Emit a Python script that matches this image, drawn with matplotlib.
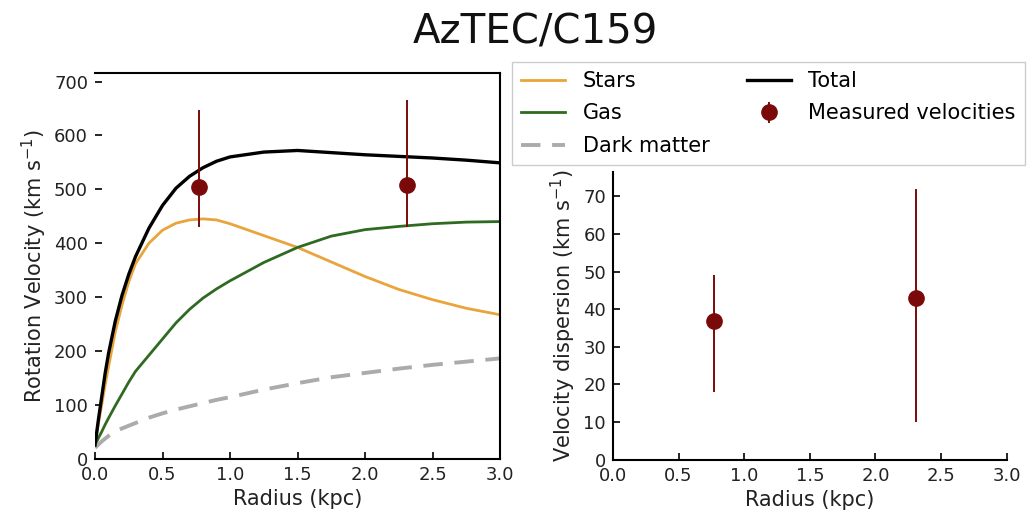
import numpy as np
import matplotlib
matplotlib.use("Agg")
import matplotlib.pyplot as plt

# model curves (radius in kpc, velocity in km/s)
radius = [0.0, 0.025, 0.05, 0.075, 0.1, 0.15, 0.2, 0.25, 0.3, 0.4, 0.5, 0.6, 0.7, 0.8,
          0.9, 1.0, 1.25, 1.5, 1.75, 2.0, 2.25, 2.5, 2.75, 3.0]
v_stars = [25, 65, 100, 137, 170, 235, 285, 328, 362, 400, 424, 437, 443, 445,
           443, 436, 414, 392, 365, 338, 314, 295, 279, 267]
v_gas = [25, 38, 50, 63, 75, 98, 120, 142, 162, 192, 222, 252, 277, 298,
         315, 330, 364, 392, 413, 425, 431, 436, 439, 440]
v_dm = [20, 26, 32, 37, 42, 50, 56, 61, 66, 76, 84, 91, 97, 103,
        109, 114, 128, 140, 151, 159, 167, 174, 180, 186]
v_total = [25, 72, 115, 158, 195, 255, 303, 342, 375, 428, 470, 502, 524, 540,
           552, 560, 569, 572, 568, 564, 561, 558, 554, 549]

# measurements
r_obs = [0.77, 2.31]
v_obs = [505, 507]
v_err_lo = [75, 77]
v_err_hi = [143, 158]
sig_obs = [37, 43]
sig_err_lo = [19, 33]
sig_err_hi = [12, 29]

c_stars = "#E9A43C"
c_gas = "#2F6A22"
c_dm = "#ABABAB"
c_obs = "#7A0A0A"

fig = plt.figure(figsize=(10.36, 5.17), dpi=100)
ax1 = fig.add_axes([0.0917, 0.113, 0.391, 0.746])
ax2 = fig.add_axes([0.5917, 0.111, 0.380, 0.557])

l1, = ax1.plot(radius, v_stars, color=c_stars, lw=2.0, label="Stars")
l2, = ax1.plot(radius, v_gas, color=c_gas, lw=2.0, label="Gas")
l3, = ax1.plot(radius, v_dm, color=c_dm, lw=2.8, ls=(0, (5, 3)), label="Dark matter")
l4, = ax1.plot(radius, v_total, color="black", lw=2.4, label="Total")
eb = ax1.errorbar(r_obs, v_obs, yerr=[v_err_lo, v_err_hi], fmt="o", color=c_obs,
                  ms=11, elinewidth=1.4, capsize=0, label="Measured velocities", zorder=5)
ax2.errorbar(r_obs, sig_obs, yerr=[sig_err_lo, sig_err_hi], fmt="o", color=c_obs,
             ms=11, elinewidth=1.4, capsize=0, zorder=5)

ax1.set_xlim(0, 3.0)
ax1.set_ylim(0, 716)
ax1.set_xticks(np.arange(0, 3.01, 0.5))
ax1.set_yticks(np.arange(0, 701, 100))
ax1.spines["left"].set_visible(False)
for s in ["top", "right", "bottom"]:
    ax1.spines[s].set_linewidth(1.5)
ax1.tick_params(direction="in", length=5, width=1.2, labelsize=13, pad=5, labelcolor="#222222")
ax1.set_xlabel("Radius (kpc)", fontsize=15, color="#222222")
ax1.set_ylabel("Rotation Velocity (km s$^{-1}$)", fontsize=15, color="#222222")

ax2.set_xlim(0, 3.0)
ax2.set_ylim(0, 76.6)
ax2.set_xticks(np.arange(0, 3.01, 0.5))
ax2.set_yticks(np.arange(0, 71, 10))
ax2.spines["top"].set_visible(False)
ax2.spines["right"].set_visible(False)
for s in ["left", "bottom"]:
    ax2.spines[s].set_linewidth(1.5)
ax2.tick_params(direction="in", length=5, width=1.2, labelsize=13, pad=5, labelcolor="#222222")
ax2.set_xlabel("Radius (kpc)", fontsize=15, color="#222222")
ax2.set_ylabel("Velocity dispersion (km s$^{-1}$)", fontsize=15, color="#222222")

fig.legend([l1, l2, l3, l4, eb], ["Stars", "Gas", "Dark matter", "Total", "Measured velocities"],
           ncol=2, loc="upper left", bbox_to_anchor=(0.494, 0.881), borderaxespad=0,
           fontsize=15, handlelength=2.1, handletextpad=0.85, labelspacing=0.6,
           columnspacing=1.8, borderpad=0.45, fancybox=False, edgecolor="#cccccc",
           framealpha=1)

fig.suptitle("AzTEC/C159", fontsize=29, x=0.517, y=0.975, color="#111111")

fig.savefig("out.png", dpi=100)
